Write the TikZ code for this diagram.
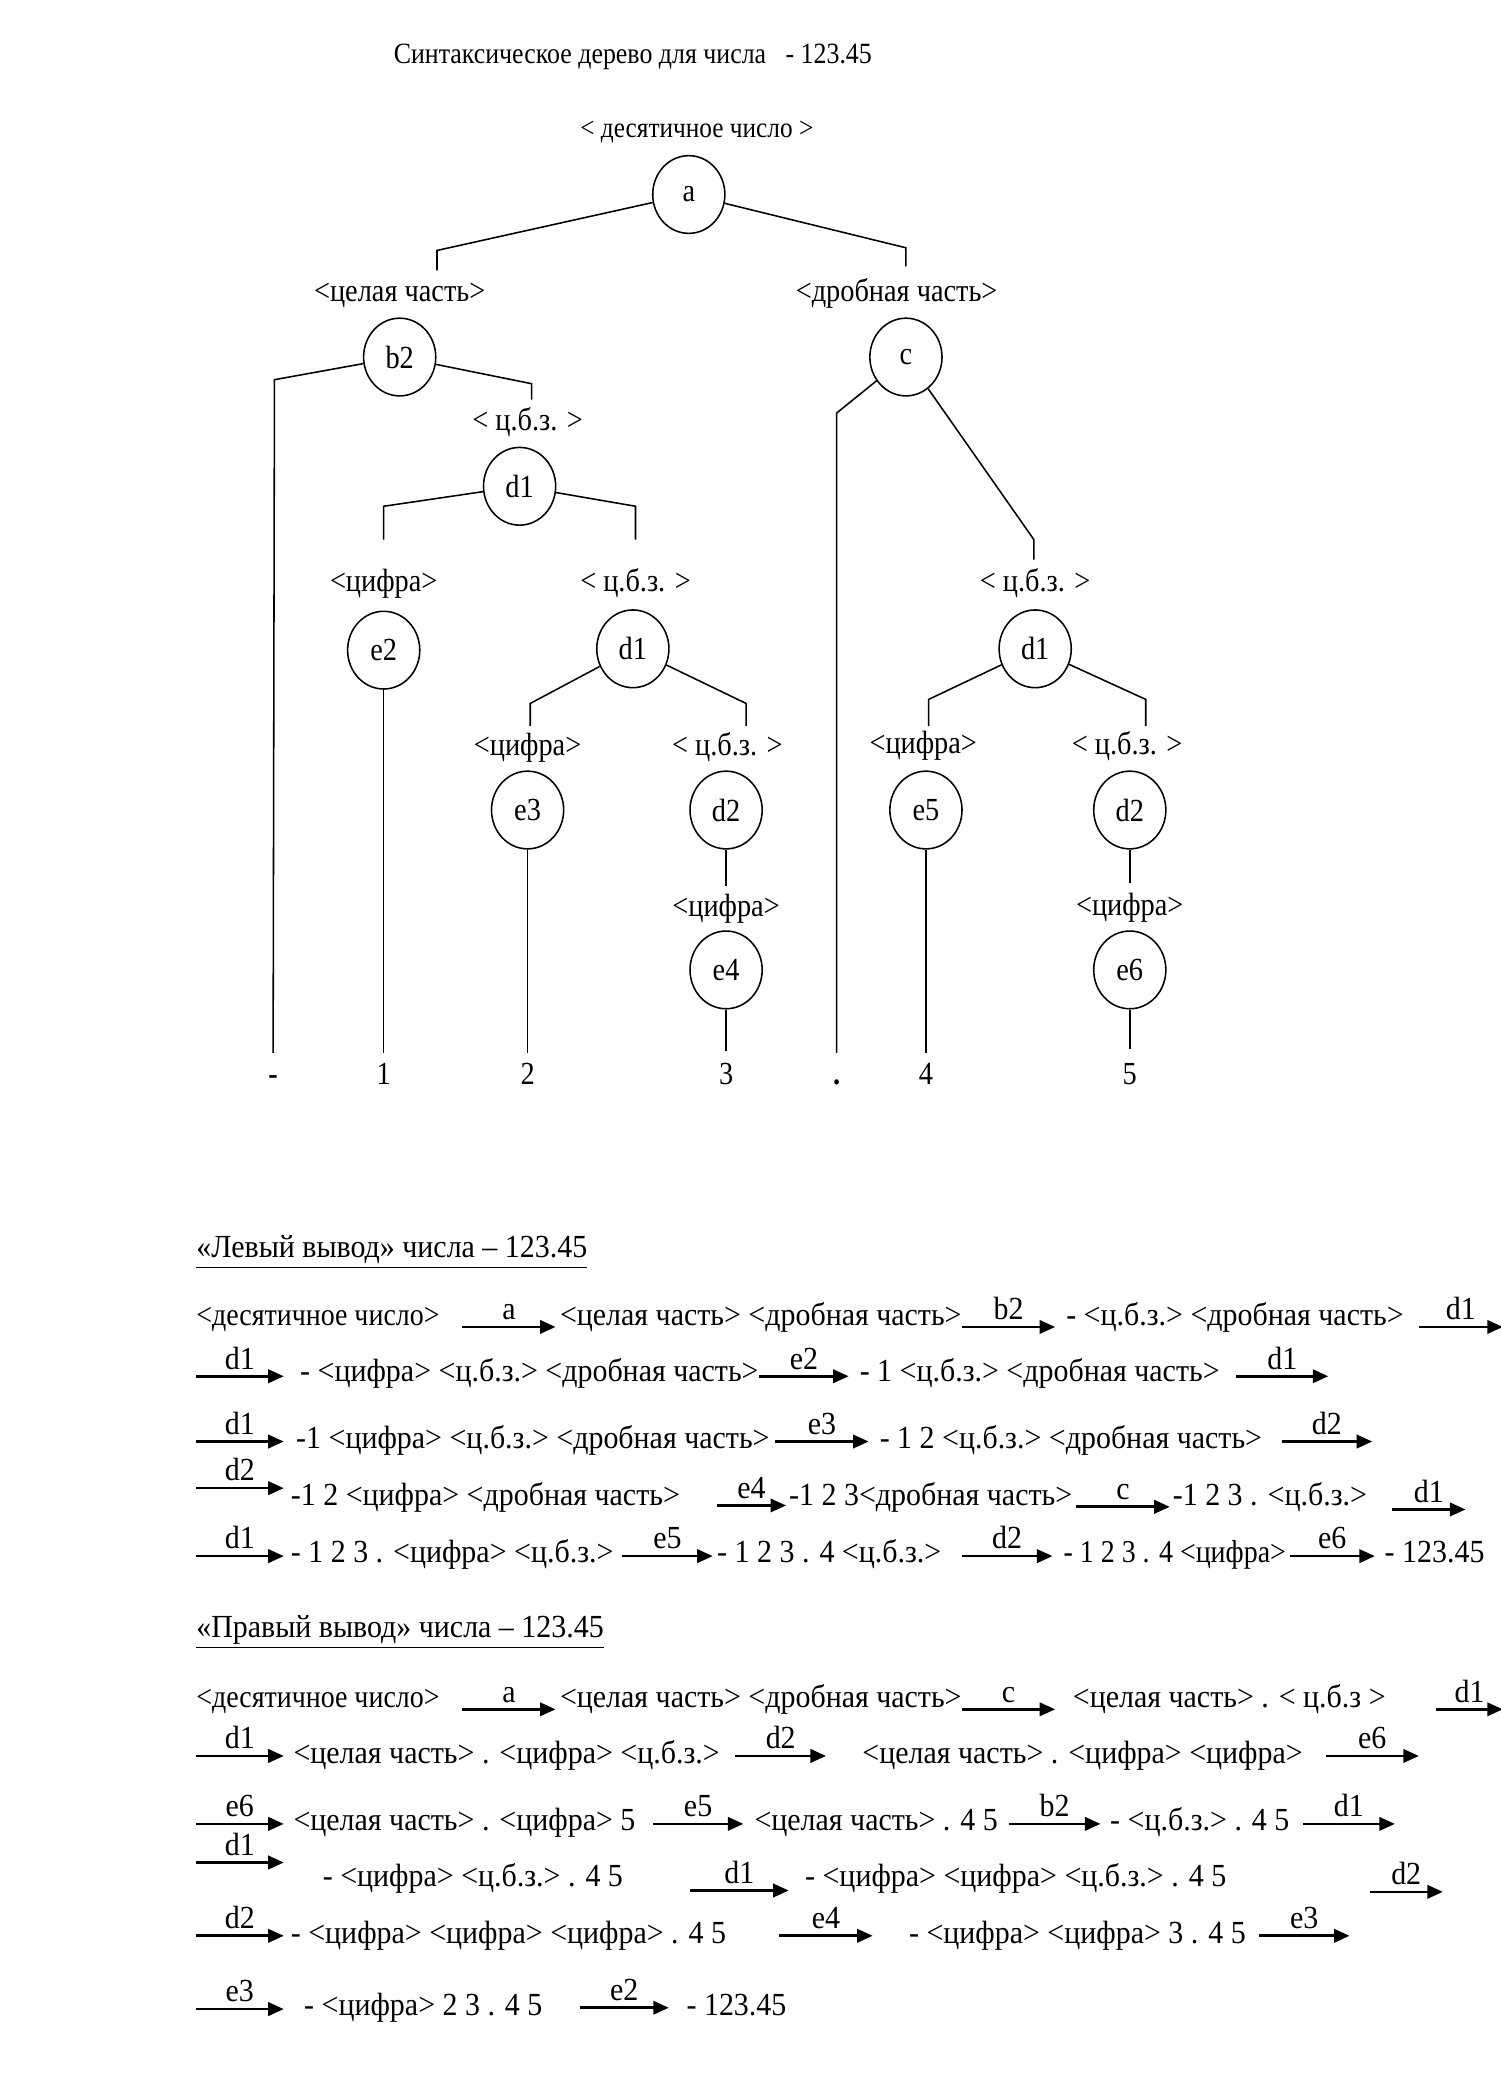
\documentclass[tikz,border=0pt]{standalone}
\usepackage{fontspec}
\setmainfont[FakeStretch=0.88]{Liberation Serif}
\newfontfamily\dfont[FakeStretch=0.93]{Liberation Serif}
\usetikzlibrary{shapes.geometric,arrows.meta}
\newcommand\derarr[5]{%
  \coordinate (#1s) at (#2,#4);
  \coordinate (#1e) at (#3,#4);
  \draw[derarrow] (#1s) -- node[arrlbl]{#5} (#1e);}
\begin{document}
\begin{tikzpicture}[x=0.6pt,y=-0.6pt,
  every node/.style={font=\fontsize{14.5}{17}\selectfont, inner sep=0pt},
  vert/.style={ellipse, draw, line width=0.7pt, minimum width=32.5pt, minimum height=35pt},
  tl/.style={line width=0.7pt},
  dtext/.style={anchor=base west, font=\dfont\fontsize{14.5}{17}\selectfont},
  ntext/.style={anchor=base west, font=\fontsize{14.3}{17}\selectfont},
  lbl/.style={anchor=center},
  leaf/.style={anchor=base, text height=10pt, text depth=0pt},
  derarrow/.style={line width=1.2pt, -{Triangle[length=7pt,width=6pt]}},
  arrlbl/.style={above=2.5pt, font=\dfont\fontsize{14.5}{17}\selectfont}
]
\useasboundingbox[fill=white] (0,0) rectangle (1126,1568);

% ---------- tree ----------
\node[lbl, font=\fontsize{13.25}{16}\selectfont] (title) at (475,43) {Синтаксическое дерево для числа\ \ \ - 123.45};
\node[lbl, font=\fontsize{12.95}{16}\selectfont] (ldec) at (523,99) {< десятичное число >};
\node[vert] (a) at (517,146) {a};
\node[lbl] (lint) at (300,222) {<целая часть>};
\node[lbl] (lfrac) at (673,220) {<дробная часть>};
\draw[tl] (a) -- (328,188) -- (328,203);
\draw[tl] (a) -- (680,186) -- (680,200);

\node[vert] (b2) at (300,268) {b2};
\node[lbl] (lcbz1) at (396,317) {< ц.б.з. >};
\node[vert] (d1a) at (390,365) {d1};
\node[lbl] (lcif1) at (288,438) {<цифра>};
\node[lbl] (lcbz2) at (477,438) {< ц.б.з. >};
\node[vert] (e2) at (288,488) {e2};
\node[vert] (d1b) at (475,487) {d1};
\node[lbl] (lcif2) at (396,561) {<цифра>};
\node[lbl] (lcbz3) at (546,561) {< ц.б.з. >};
\node[vert] (e3) at (396,608) {e3};
\node[vert] (d2a) at (545,608) {d2};
\node[lbl] (lcif3) at (545,682) {<цифра>};
\node[vert] (e4) at (545,728) {e4};

\node[vert] (c) at (680,268) {c};
\node[lbl] (lcbz4) at (777,438) {< ц.б.з. >};
\node[vert] (d1c) at (777,487) {d1};
\node[lbl] (lcif4) at (693,560) {<цифра>};
\node[lbl] (lcbz5) at (846,560) {< ц.б.з. >};
\node[vert] (e5) at (695,608) {e5};
\node[vert] (d2b) at (848,608) {d2};
\node[lbl] (lcif5) at (848,681) {<цифра>};
\node[vert] (e6) at (848,728) {e6};

\node[leaf] (fminus) at (205,814) {\textbf{-}};
\node[leaf] (f1) at (288,814) {1};
\node[leaf] (f2) at (396,814) {2};
\node[leaf] (f3) at (545,814) {3};
\node[leaf] (fdot) at (628,814) {\textbf{.}};
\node[leaf] (f4) at (695,814) {4};
\node[leaf] (f5) at (848,814) {5};

\draw[tl] (b2) -- (206,285) -- ([yshift=4pt]fminus.north);
\draw[tl] (b2) -- (399,288) -- (399,300);
\draw[tl] (d1a) -- (288,380) -- (288,405);
\draw[tl] (d1a) -- (477,380) -- (477,405);
\draw[tl] (e2) -- ([yshift=4pt]f1.north);
\draw[tl] (d1b) -- (398,528) -- (398,545);
\draw[tl] (d1b) -- (560,528) -- (560,545);
\draw[tl] (e3) -- ([yshift=4pt]f2.north);
\draw[tl] (d2a) -- (545,665);
\draw[tl] (e4) -- ([yshift=5pt]f3.north);
\draw[tl] (c) -- (628,310) -- ([yshift=4pt]fdot.north);
\draw[tl] (c) -- (776,405) -- (776,420);
\draw[tl] (d1c) -- (697,525) -- (697,545);
\draw[tl] (d1c) -- (860,525) -- (860,545);
\draw[tl] (e5) -- ([yshift=4pt]f4.north);
\draw[tl] (d2b) -- (848,663);
\draw[tl] (e6) -- ([yshift=6pt]f5.north);

% ---------- left derivation ----------
\node[dtext] (hl) at (147,944) {\underline{«Левый вывод» числа – 123.45}};

\node[ntext] (l1a) at (147,995) {<десятичное число>};
\derarr{l1x}{347}{417}{996}{a}
\node[dtext] (l1b) at (420,995) {<целая часть> <дробная часть>};
\derarr{l1y}{722}{792}{996}{b2}
\node[dtext] (l1c) at (800,995) {- <ц.б.з.> <дробная часть>};
\derarr{l1z}{1065}{1128}{996}{d1}

\derarr{l2x}{147}{213}{1033}{d1}
\node[dtext] (l2a) at (225,1037) {- <цифра> <ц.б.з.> <дробная часть>};
\derarr{l2y}{570}{637}{1033}{e2}
\node[dtext] (l2b) at (645,1037) {- 1 <ц.б.з.> <дробная часть>};
\derarr{l2z}{928}{997}{1033}{d1}

\derarr{l3x}{147}{213}{1082}{d1}
\node[dtext] (l3a) at (222,1087) {-1 <цифра> <ц.б.з.> <дробная часть>};
\derarr{l3y}{582}{652}{1082}{e3}
\node[dtext] (l3b) at (660,1087) {- 1 2 <ц.б.з.> <дробная часть>};
\derarr{l3z}{962}{1030}{1082}{d2}

\derarr{l4x}{147}{213}{1117}{d2}
\node[dtext] (l4a) at (218,1130) {-1 2 <цифра> <дробная часть>};
\derarr{l4y}{538}{590}{1130}{e4}
\node[dtext] (l4b) at (592,1130) {-1 2 3<дробная часть>};
\derarr{l4z}{808}{878}{1131}{c}
\node[dtext] (l4c) at (880,1130) {-1 2 3 . <ц.б.з.>};
\derarr{l4w}{1045}{1100}{1133}{d1}

\derarr{l5x}{147}{213}{1168}{d1}
\node[dtext] (l5a) at (218,1173) {- 1 2 3 . <цифра> <ц.б.з.>};
\derarr{l5y}{467}{535}{1168}{e5}
\node[dtext] (l5b) at (538,1173) {- 1 2 3 . 4 <ц.б.з.>};
\derarr{l5z}{722}{790}{1168}{d2}
\node[ntext] (l5c) at (798,1173) {- 1 2 3 . 4 <цифра>};
\derarr{l5w}{968}{1032}{1168}{e6}
\node[dtext] (l5d) at (1039,1173) {- 123.45};

% ---------- right derivation ----------
\node[dtext] (hr) at (147,1229) {\underline{«Правый вывод» числа – 123.45}};

\node[ntext] (r1a) at (147,1282) {<десятичное число>};
\derarr{r1x}{347}{417}{1283}{a}
\node[dtext] (r1b) at (420,1282) {<целая часть> <дробная часть>};
\derarr{r1y}{722}{792}{1283}{c}
\node[dtext] (r1c) at (805,1282) {<целая часть> . < ц.б.з >};
\derarr{r1z}{1078}{1128}{1283}{d1}

\derarr{r2x}{147}{213}{1318}{d1}
\node[dtext] (r2a) at (220,1324) {<целая часть> . <цифра> <ц.б.з.>};
\derarr{r2y}{552}{620}{1318}{d2}
\node[dtext] (r2b) at (647,1324) {<целая часть> . <цифра> <цифра>};
\derarr{r2z}{995}{1065}{1318}{e6}

\derarr{r3x}{147}{213}{1369}{e6}
\node[dtext] (r3a) at (220,1374) {<целая часть> . <цифра> 5};
\derarr{r3y}{490}{558}{1369}{e5}
\node[dtext] (r3b) at (566,1374) {<целая часть> . 4 5};
\derarr{r3z}{757}{826}{1369}{b2}
\node[dtext] (r3c) at (833,1374) {- <ц.б.з.> . 4 5};
\derarr{r3w}{978}{1047}{1369}{d1}

\derarr{r4x}{147}{213}{1398}{d1}
\node[dtext] (r4a) at (242,1416) {- <цифра> <ц.б.з.> . 4 5};
\derarr{r4y}{518}{592}{1419}{d1}
\node[dtext] (r4b) at (604,1416) {- <цифра> <цифра> <ц.б.з.> . 4 5};
\derarr{r4z}{1028}{1083}{1420}{d2}

\derarr{r5x}{147}{213}{1453}{d2}
\node[dtext] (r5a) at (218,1459) {- <цифра> <цифра> <цифра> . 4 5};
\derarr{r5y}{585}{655}{1453}{e4}
\node[dtext] (r5b) at (682,1459) {- <цифра> <цифра> 3 . 4 5};
\derarr{r5z}{945}{1013}{1453}{e3}

\derarr{r6x}{147}{213}{1508}{e3}
\node[dtext] (r6a) at (228,1513) {- <цифра> 2 3 . 4 5};
\derarr{r6y}{435}{502}{1507}{e2}
\node[dtext] (r6b) at (515,1513) {- 123.45};
\end{tikzpicture}
\end{document}
